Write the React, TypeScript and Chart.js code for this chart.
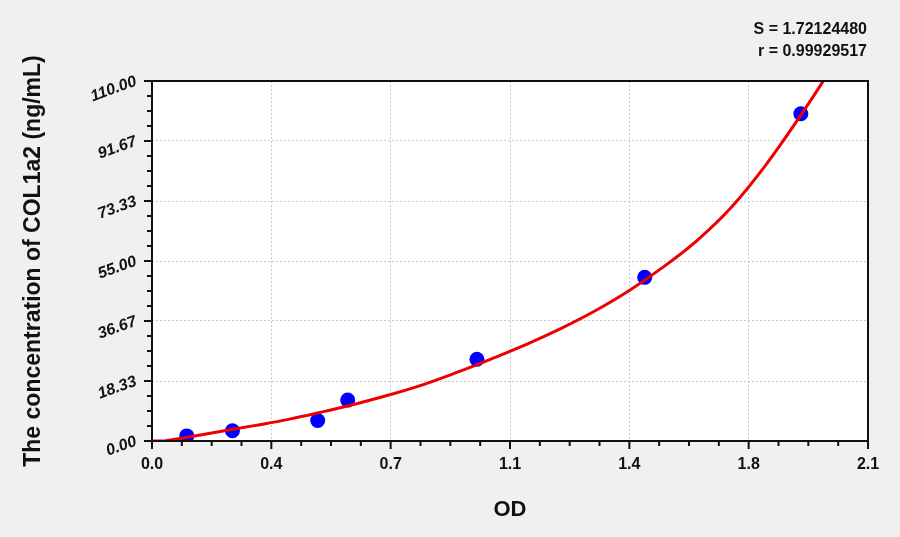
import React, { useEffect, useRef } from "react";
import { Chart, registerables } from "chart.js";

Chart.register(...registerables);

// standard points (OD vs concentration)
const odValues = [0.102, 0.236, 0.486, 0.574, 0.953, 1.445, 1.903];
const concValues = [1.56, 3.12, 6.25, 12.5, 25, 50, 100];

// fitted curve
const curveOd = [0, 0.04, 0.1, 0.2, 0.3, 0.4, 0.5, 0.6, 0.7, 0.8, 0.9, 1.0, 1.1, 1.2, 1.3, 1.4, 1.5, 1.6, 1.7, 1.8, 1.9, 2.0];
const curveConc = [0, 0.1, 1.1, 2.9, 4.7, 6.6, 8.9, 11.4, 14.2, 17.4, 21.2, 25.3, 29.6, 34.4, 39.8, 46.0, 53.2, 61.4, 71.5, 84.3, 99.1, 115.0];

const xTickValues = [0, 0.35, 0.7, 1.05, 1.4, 1.75, 2.1];
const xTickLabels = ["0.0", "0.4", "0.7", "1.1", "1.4", "1.8", "2.1"];
const yTickValues = [0, 18.333, 36.667, 55, 73.333, 91.667, 110];
const yTickLabels = ["0.00", "18.33", "36.67", "55.00", "73.33", "91.67", "110.00"];

const fitStats = ["S = 1.72124480", "r = 0.99929517"];

const FONT = "'Liberation Sans', Arial, sans-serif";

// white plot area, black frame, major/minor tick marks and the fit text
const framePlugin = {
  id: "frame",
  beforeDraw(chart: any) {
    const { ctx, chartArea: a } = chart;
    ctx.save();
    ctx.fillStyle = "#ffffff";
    ctx.fillRect(a.left, a.top, a.right - a.left, a.bottom - a.top);
    ctx.restore();
  },
  afterDraw(chart: any) {
    const { ctx, chartArea: a, scales } = chart;
    const xs = scales.x;
    const ys = scales.y;
    ctx.save();
    ctx.strokeStyle = "#111";
    ctx.lineWidth = 2;
    ctx.beginPath();
    xTickValues.forEach((v, i) => {
      const px = xs.getPixelForValue(v);
      ctx.moveTo(px, a.bottom);
      ctx.lineTo(px, a.bottom + 8);
      if (i < xTickValues.length - 1) {
        const step = (xTickValues[i + 1] - v) / 4;
        for (let k = 1; k < 4; k++) {
          const m = xs.getPixelForValue(v + step * k);
          ctx.moveTo(m, a.bottom);
          ctx.lineTo(m, a.bottom + 5);
        }
      }
    });
    yTickValues.forEach((v, i) => {
      const py = ys.getPixelForValue(v);
      ctx.moveTo(a.left, py);
      ctx.lineTo(a.left - 8, py);
      if (i < yTickValues.length - 1) {
        const step = (yTickValues[i + 1] - v) / 4;
        for (let k = 1; k < 4; k++) {
          const m = ys.getPixelForValue(v + step * k);
          ctx.moveTo(a.left, m);
          ctx.lineTo(a.left - 5, m);
        }
      }
    });
    ctx.stroke();
    ctx.lineWidth = 2;
    ctx.strokeRect(a.left, a.top, a.right - a.left, a.bottom - a.top);

    ctx.fillStyle = "#111";
    ctx.font = `bold 16px ${FONT}`;
    ctx.textAlign = "right";
    ctx.textBaseline = "middle";
    fitStats.forEach((s, i) => ctx.fillText(s, a.right - 1, a.top - 51 + i * 22));
    ctx.restore();
  },
};

const StandardCurve = () => {
  const canvasRef = useRef<HTMLCanvasElement>(null);

  useEffect(() => {
    if (!canvasRef.current) return;
    const ctx = canvasRef.current.getContext("2d");
    if (!ctx) return;

    const chart = new Chart(ctx, {
      type: "scatter",
      data: {
        datasets: [
          {
            label: "fit",
            data: curveOd.map((x, i) => ({ x, y: curveConc[i] })),
            showLine: true,
            borderColor: "#ee0000",
            borderWidth: 3,
            pointRadius: 0,
            tension: 0.4,
            order: 0,
          },
          {
            label: "standards",
            data: odValues.map((x, i) => ({ x, y: concValues[i] })),
            backgroundColor: "#0000ff",
            borderWidth: 0,
            pointRadius: 7.5,
            order: 1,
          },
        ],
      },
      options: {
        responsive: false,
        animation: false,
        layout: { padding: { top: 81, right: 32, left: 0, bottom: 0 } },
        plugins: { legend: { display: false }, tooltip: { enabled: false } },
        scales: {
          x: {
            type: "linear",
            min: 0,
            max: 2.1,
            afterBuildTicks: (s: any) => {
              s.ticks = xTickValues.map((value) => ({ value }));
            },
            afterFit: (s: any) => {
              s.height = 96;
            },
            ticks: {
              callback: (_v: any, i: number) => xTickLabels[i],
              font: { family: FONT, size: 16, weight: "bold" },
              color: "#111",
              padding: 6,
              maxRotation: 0,
            },
            grid: { color: "#c8c8c8", lineWidth: 1, tickColor: "transparent", tickLength: 8 },
            border: { display: false, dash: [2, 2] },
            title: {
              display: true,
              text: "OD",
              font: { family: FONT, size: 22, weight: "bold" },
              color: "#111",
              padding: { top: 0, bottom: 14 },
            },
          },
          y: {
            type: "linear",
            min: 0,
            max: 110,
            afterBuildTicks: (s: any) => {
              s.ticks = yTickValues.map((value) => ({ value }));
            },
            afterFit: (s: any) => {
              s.width = 152;
            },
            ticks: {
              callback: (_v: any, i: number) => yTickLabels[i],
              font: { family: FONT, size: 16, weight: "bold", style: "italic" },
              color: "#111",
              padding: 8,
              minRotation: 20,
              maxRotation: 20,
            },
            grid: { color: "#c8c8c8", lineWidth: 1, tickColor: "transparent", tickLength: 8 },
            border: { display: false, dash: [2, 2] },
            title: {
              display: true,
              text: "The concentration of COL1a2 (ng/mL)",
              font: { family: FONT, size: 23, weight: "bold" },
              color: "#111",
              padding: { top: 20, bottom: 0 },
            },
          },
        },
      },
      plugins: [framePlugin],
    } as any);

    return () => chart.destroy();
  }, []);

  return <canvas ref={canvasRef} width={900} height={537} />;
};

export default function App() {
  return (
    <div style={{ position: "fixed", left: 0, top: 0, width: 900, height: 537, background: "#f0f0f0" }}>
      <StandardCurve />
    </div>
  );
}
